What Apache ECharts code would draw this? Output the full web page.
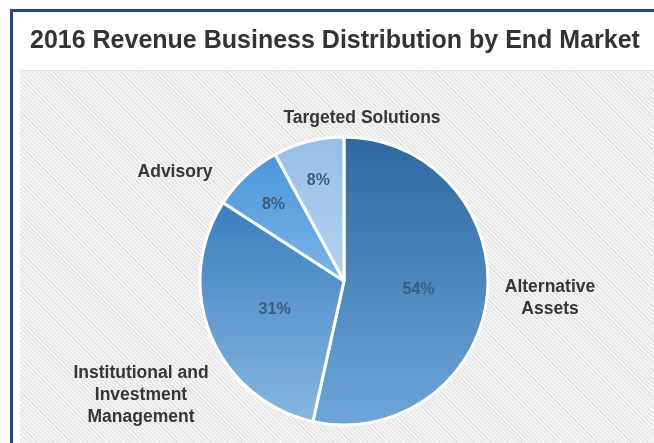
<!DOCTYPE html>
<html>
<head>
<meta charset="utf-8">
<script src="https://cdn.jsdelivr.net/npm/echarts@6/dist/echarts.min.js"></script>
<style>
  html, body { margin: 0; padding: 0; background: #fff; }
  #wrap { position: relative; width: 654px; height: 443px; overflow: hidden; }
  /* navy frame along the top and left edges */
  #frame { position: absolute; left: 10px; top: 9px; right: -10px; bottom: -10px;
           border-top: 3px solid #1d4b88; border-left: 3px solid #1d4b88; }
  /* hatched panel behind the pie */
  #panel { position: absolute; left: 20px; top: 70px; right: 0; bottom: 0;
           border-top: 1px solid #e2e2e2;
           background: repeating-linear-gradient(45deg, #e5e5e5 0px, #e5e5e5 1.5px, #f6f6f6 1.5px, #f6f6f6 3px); }
  #chart { position: absolute; left: 0; top: 0; width: 654px; height: 443px; }
</style>
</head>
<body>
<div id="wrap">
  <div id="frame"></div>
  <div id="panel"></div>
  <div id="chart"></div>
</div>
<script>
// Revenue share by end market, 2016 (percent)
const categories = ['Alternative\nAssets', 'Institutional and\nInvestment\nManagement', 'Advisory', 'Targeted Solutions'];
const shares = [54, 31, 8, 8];

const CX = 344, CY = 281, R = 144;

// vertical gradient per slice: [top, bottom]
const sliceColors = [
  ['#2c68a0', '#6ea6d8'],
  ['#397ec0', '#88b7e0'],
  ['#4896dc', '#7cb4e7'],
  ['#97bee7', '#b4d1ee']
];

// where each category name sits, relative to the pie centre
const nameOffsets = [[206, 17], [-203, 114], [-169, -109], [18, -163]];

const chart = echarts.init(document.getElementById('chart'), null, { renderer: 'canvas' });

const sliceData = categories.map((name, i) => ({
  name: name,
  value: shares[i],
  itemStyle: {
    color: new echarts.graphic.LinearGradient(0, 0, 0, 1, [
      { offset: 0, color: sliceColors[i][0] },
      { offset: 1, color: sliceColors[i][1] }
    ])
  }
}));

const pctLabel = {
  show: true,
  position: 'inside',
  formatter: '{c}%',
  fontFamily: 'Liberation Sans, Arial, sans-serif',
  fontWeight: 'bold',
  fontSize: 16,
  color: '#3f5b7b'
};

chart.setOption({
  backgroundColor: 'transparent',
  animation: false,
  title: {
    text: '2016 Revenue Business Distribution by End Market',
    left: 25,
    top: 24,
    textStyle: {
      fontFamily: 'Liberation Sans, Arial, sans-serif',
      fontWeight: 'bold',
      fontSize: 25,
      color: '#333'
    }
  },
  series: [
    {
      // visible slices with the category names
      type: 'pie',
      center: [CX, CY],
      radius: R,
      startAngle: 90,
      clockwise: true,
      avoidLabelOverlap: false,
      silent: true,
      itemStyle: { borderColor: '#ffffff', borderWidth: 3 },
      label: {
        show: true,
        position: 'outside',
        formatter: '{b}',
        fontFamily: 'Liberation Sans, Arial, sans-serif',
        fontWeight: 'bold',
        fontSize: 17.5,
        lineHeight: 22,
        color: '#363636',
        align: 'center'
      },
      labelLine: { show: false },
      labelLayout: function (p) {
        const o = nameOffsets[p.dataIndex];
        return { x: CX + o[0], y: CY + o[1], align: 'center', verticalAlign: 'middle' };
      },
      data: sliceData
    },
    {
      // percentage labels for the two large slices, at half radius
      type: 'pie',
      center: [CX, CY],
      radius: R,
      startAngle: 90,
      clockwise: true,
      silent: true,
      itemStyle: { color: 'transparent', borderWidth: 0 },
      label: pctLabel,
      labelLine: { show: false },
      data: categories.map((name, i) => ({ name: name, value: shares[i], label: { show: i < 2 } }))
    },
    {
      // percentage labels for the two narrow slices, further out
      type: 'pie',
      center: [CX, CY],
      radius: R * 1.4,
      startAngle: 90,
      clockwise: true,
      silent: true,
      itemStyle: { color: 'transparent', borderWidth: 0 },
      label: pctLabel,
      labelLine: { show: false },
      data: categories.map((name, i) => ({ name: name, value: shares[i], label: { show: i >= 2 } }))
    }
  ]
});
</script>
</body>
</html>
